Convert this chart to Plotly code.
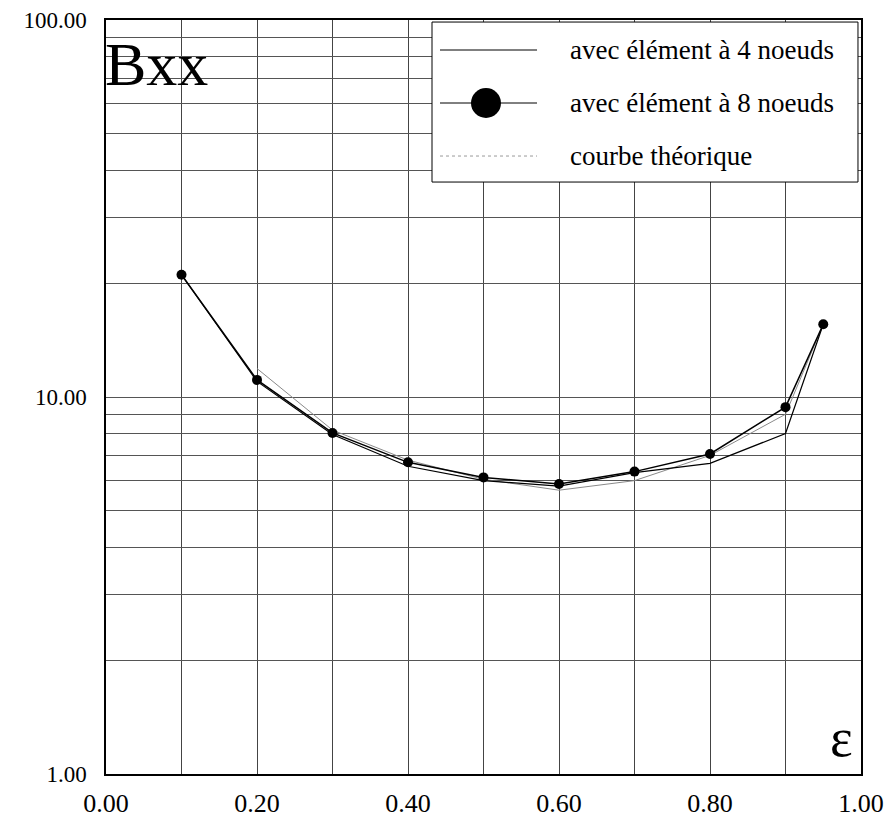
import plotly.graph_objects as go

# Abscissa (epsilon) and Bxx values for each curve
eps = [0.1, 0.2, 0.3, 0.4, 0.5, 0.6, 0.7, 0.8, 0.9, 0.95]
bxx_4n = [21.1, 11.0, 7.95, 6.55, 6.0, 5.8, 6.3, 6.67, 8.0, 15.6]
bxx_8n = [21.1, 11.1, 8.03, 6.71, 6.12, 5.88, 6.34, 7.06, 9.4, 15.6]
eps_th = [0.2, 0.3, 0.4, 0.5, 0.6, 0.7, 0.8, 0.9, 0.95]
bxx_th = [11.9, 8.17, 6.8, 6.05, 5.66, 6.0, 7.0, 9.0, 15.6]

legend_labels = ["avec élément à 4 noeuds", "avec élément à 8 noeuds", "courbe théorique"]

x_ticks = [0.0, 0.1, 0.2, 0.3, 0.4, 0.5, 0.6, 0.7, 0.8, 0.9, 1.0]
x_text = ["0.00", "", "0.20", "", "0.40", "", "0.60", "", "0.80", "", "1.00"]
y_ticks = [1, 2, 3, 4, 5, 6, 7, 8, 9, 10, 20, 30, 40, 50, 60, 70, 80, 90, 100]
y_text = ["1.00"] + [""] * 8 + ["10.00"] + [""] * 8 + ["100.00"]

SERIF = "Liberation Serif"

fig = go.Figure()
fig.add_trace(go.Scatter(x=eps_th, y=bxx_th, mode="lines",
                         line=dict(color="#8a8a8a", width=1), showlegend=False))
fig.add_trace(go.Scatter(x=eps, y=bxx_4n, mode="lines",
                         line=dict(color="black", width=1.2), showlegend=False))
fig.add_trace(go.Scatter(x=eps, y=bxx_8n, mode="lines+markers",
                         line=dict(color="black", width=1.5),
                         marker=dict(color="black", size=10), showlegend=False))

# Hand-built legend box in the upper right corner
shapes = [dict(type="rect", xref="paper", yref="paper",
               x0=0.4318, x1=0.996, y0=0.7851, y1=0.9973,
               fillcolor="white", line=dict(color="black", width=1), layer="above")]
rows = [0.9602, 0.8899, 0.8196]
x0s, x1s = 0.4424, 0.5709
shapes.append(dict(type="line", xref="paper", yref="paper", x0=x0s, x1=x1s,
                   y0=rows[0], y1=rows[0], line=dict(color="black", width=1), layer="above"))
shapes.append(dict(type="line", xref="paper", yref="paper", x0=x0s, x1=x1s,
                   y0=rows[1], y1=rows[1], line=dict(color="black", width=1), layer="above"))
rx, ry = 15 / 755, 15 / 754
cx = 0.5033
shapes.append(dict(type="circle", xref="paper", yref="paper",
                   x0=cx - rx, x1=cx + rx, y0=rows[1] - ry, y1=rows[1] + ry,
                   fillcolor="black", line=dict(color="black", width=0), layer="above"))
shapes.append(dict(type="line", xref="paper", yref="paper", x0=x0s, x1=x1s,
                   y0=rows[2], y1=rows[2], line=dict(color="#999", width=1, dash="dot"),
                   layer="above"))

annotations = []
for label, ry_ in zip(legend_labels, rows):
    annotations.append(dict(text=label, xref="paper", yref="paper", x=0.6119, y=ry_,
                            xanchor="left", yanchor="middle", showarrow=False,
                            font=dict(family=SERIF, size=27, color="black")))
annotations.append(dict(text="Bxx", xref="paper", yref="paper", x=-0.004, y=0.99,
                        xanchor="left", yanchor="top", showarrow=False,
                        font=dict(family=SERIF, size=62, color="black")))
annotations.append(dict(text="ε", xref="paper", yref="paper", x=0.992, y=0.005,
                        xanchor="right", yanchor="bottom", showarrow=False,
                        font=dict(family=SERIF, size=54, color="black")))

fig.update_layout(
    width=890, height=827,
    margin=dict(l=106, r=29, t=20, b=53, autoexpand=False),
    paper_bgcolor="white", plot_bgcolor="white",
    font=dict(family=SERIF, size=20, color="black"),
    xaxis=dict(range=[0, 1], tickmode="array", tickvals=x_ticks, ticktext=x_text,
               showgrid=True, gridcolor="#444", gridwidth=1, automargin=False,
               showline=True, linecolor="black", linewidth=1.5, mirror=True,
               ticks="", ticklabelstandoff=5, zeroline=False,
               tickfont=dict(family=SERIF, size=26, color="black")),
    yaxis=dict(type="log", range=[0, 2], tickmode="array", tickvals=y_ticks, ticktext=y_text,
               showgrid=True, gridcolor="#555", gridwidth=1, automargin=False,
               showline=True, linecolor="black", linewidth=1.5, mirror=True,
               ticks="", ticklabelstandoff=13, zeroline=False,
               tickfont=dict(family=SERIF, size=23, color="black")),
    shapes=shapes, annotations=annotations)

fig.write_html("out.html")
